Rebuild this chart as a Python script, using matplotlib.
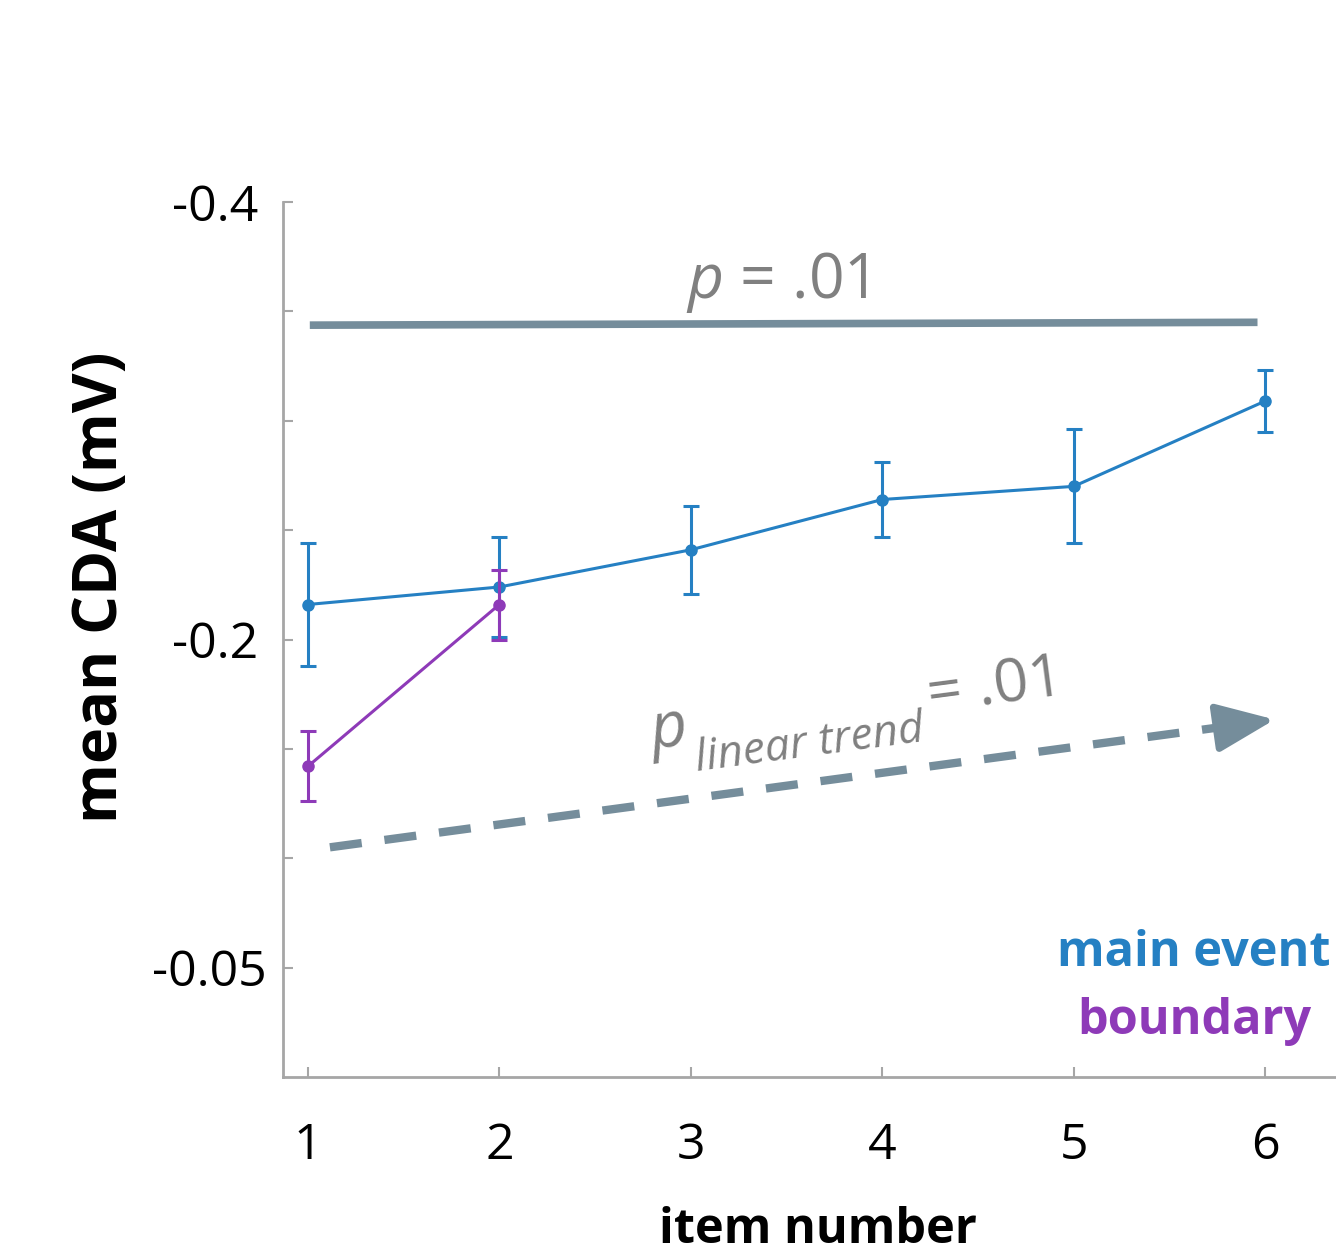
import numpy as np
import matplotlib
matplotlib.use("Agg")
import matplotlib.pyplot as plt
import matplotlib.transforms as mtransforms
from matplotlib.ticker import FixedLocator, FixedFormatter

plt.rcParams['font.family'] = ['Open Sans', 'DejaVu Sans']
plt.rcParams['mathtext.fontset'] = 'custom'
plt.rcParams['mathtext.it'] = 'Open Sans:italic'
plt.rcParams['mathtext.rm'] = 'Open Sans'
plt.rcParams['axes.unicode_minus'] = False

# mean CDA per item position, with SEM
items = [1, 2, 3, 4, 5, 6]
main_cda = [-0.216, -0.224, -0.241, -0.264, -0.270, -0.309]
main_err = [0.028, 0.023, 0.020, 0.017, 0.026, 0.014]
boundary_items = [1, 2]
boundary_cda = [-0.142, -0.216]
boundary_err = [0.016, 0.016]

ytick_vals = [-0.4, -0.35, -0.3, -0.25, -0.2, -0.15, -0.1, -0.05]
ytick_labels = ["-0.4", "", "", "", "-0.2", "", "", "-0.05"]

BLUE = "#2580c3"
PURPLE = "#8e3ab8"
ANNOT = "#758d9b"
GREY_TXT = "#808080"

fig = plt.figure(figsize=(13.36, 12.54), dpi=100)
ax = fig.add_axes([283 / 1336, 1 - 1077 / 1254, 1 - 283 / 1336, (1077 - 202) / 1254])

ax.errorbar(items, main_cda, yerr=main_err, color=BLUE, lw=2.2, marker='o', ms=8,
            capsize=6, capthick=2.2, elinewidth=2.2, zorder=3)
ax.errorbar(boundary_items, boundary_cda, yerr=boundary_err, color=PURPLE, lw=2.2,
            marker='o', ms=8, capsize=6, capthick=2.2, elinewidth=2.2, zorder=4)

ax.set_xlim(0.87, 6.37)
ax.set_ylim(0.0, -0.4)
ax.yaxis.set_major_locator(FixedLocator(ytick_vals))
ax.yaxis.set_major_formatter(FixedFormatter(ytick_labels))
ax.set_xticks(items)

for s in ('top', 'right'):
    ax.spines[s].set_visible(False)
for s in ('left', 'bottom'):
    ax.spines[s].set_color('#a6a6a6')
    ax.spines[s].set_linewidth(2)
ax.tick_params(direction='in', length=7, width=1.5, color='#a6a6a6',
               labelsize=36, labelcolor='black')
ax.tick_params(axis='x', pad=32)
ax.tick_params(axis='y', pad=18)
# nudge the bottom y label a little to the right
lab = ax.get_yticklabels()[-1]
lab.set_transform(lab.get_transform() +
                  mtransforms.ScaledTranslation(0.09, 0, fig.dpi_scale_trans))

ax.set_xlabel("item number", fontsize=35, fontweight='bold')
ax.xaxis.set_label_coords(0.508, -0.147)
ax.set_ylabel("mean CDA (mV)", fontsize=44, fontweight='bold')
ax.yaxis.set_label_coords(-0.143, 0.56)

# overall effect bar
ax.plot([1.01, 5.96], [-0.3437, -0.345], color=ANNOT, lw=5.5, solid_capstyle='butt')
ax.text(3.45, -0.356, "$p$ = .01", fontsize=45, color=GREY_TXT, ha='center', va='baseline')

# linear trend arrow: dashed shaft plus solid head
ax.plot([1.115, 5.80], [-0.105, -0.1603], color=ANNOT, lw=6,
        linestyle=(0, (3.85, 2.75)), dash_capstyle='butt')
ax.annotate("", xy=(6.05, -0.1634), xytext=(5.80, -0.1603),
            arrowprops=dict(arrowstyle='-|>,head_length=1.8,head_width=0.75',
                            mutation_scale=20, color=ANNOT, lw=5,
                            shrinkA=0, shrinkB=0))

# rotated label: big italic p, dropped subscript, then "= .01" on p's baseline
ang = 7.5
c, s_ = np.cos(np.radians(ang)), np.sin(np.radians(ang))
px2pt = 72 / 100


def along(d, drop=0.0):
    return ((d * c + drop * s_) * px2pt, (d * s_ - drop * c) * px2pt)


anchor = (2.797, -0.150)
for txt, size, d, drop, style in [("p", 46, 0, 0, 'italic'),
                                  ("linear trend", 32, 42, 28, 'italic'),
                                  ("= .01", 44, 280, 0, 'normal')]:
    ax.annotate(txt, xy=anchor, xytext=along(d, drop), textcoords='offset points',
                fontsize=size, style=style, color=GREY_TXT, rotation=ang,
                rotation_mode='anchor', ha='left', va='baseline')

ax.text(1194 / 1336, 1 - 953 / 1254, "main event", transform=fig.transFigure,
        fontsize=35, fontweight='bold', color=BLUE, ha='center', va='center')
ax.text(1194 / 1336, 1 - 1022 / 1254, "boundary", transform=fig.transFigure,
        fontsize=35, fontweight='bold', color=PURPLE, ha='center', va='center')

fig.savefig("out.png", dpi=100)
